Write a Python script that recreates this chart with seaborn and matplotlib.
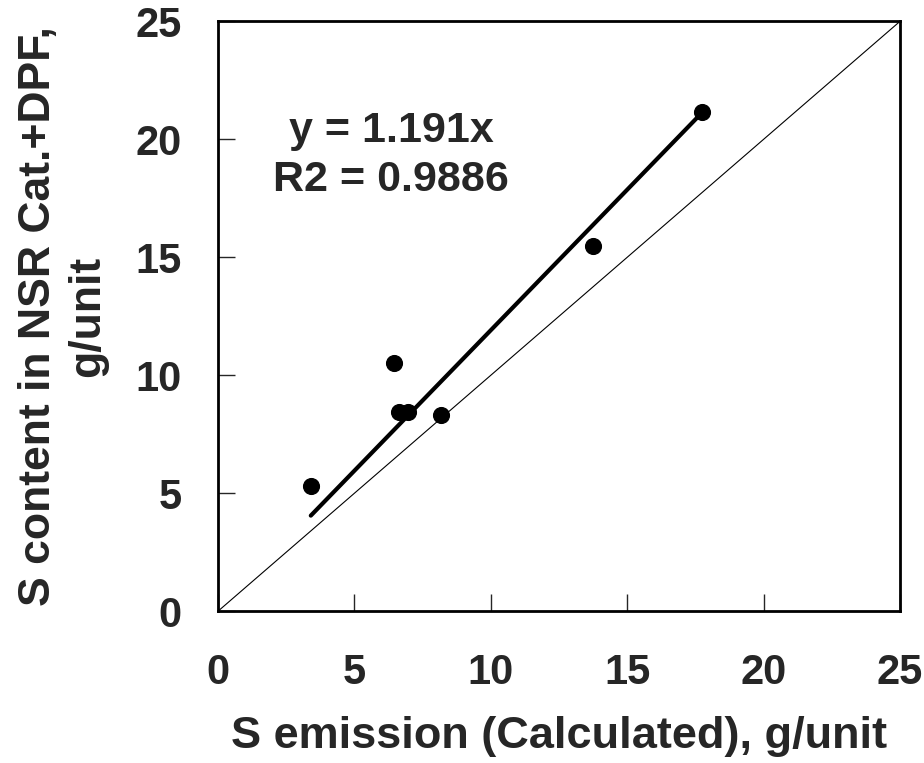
import numpy as np
import pandas as pd
import matplotlib
matplotlib.use('Agg')
import matplotlib.pyplot as plt
import seaborn as sns

# data
s_calc = [3.4, 6.45, 6.63, 6.96, 8.16, 13.73, 17.74]
s_content = [5.3, 10.5, 8.43, 8.43, 8.3, 15.47, 21.14]
slope = 1.191
r2 = 0.9886
ticks = [0, 5, 10, 15, 20, 25]

sns.set_theme(style='white')
plt.rcParams['font.family'] = ['Liberation Sans', 'DejaVu Sans']
plt.rcParams['font.weight'] = 'bold'

df = pd.DataFrame({'x': s_calc, 'y': s_content})

fig = plt.figure(figsize=(9.24, 7.63), dpi=100)
ax = fig.add_axes([0.236, 0.199, 0.738, 0.773])

# 1:1 reference line
ax.plot([0, 25], [0, 25], color='black', linewidth=0.8, zorder=1)

# fitted line through origin
fit_x = np.array([min(s_calc), max(s_calc)])
sns.lineplot(x=fit_x, y=slope * fit_x, color='black', linewidth=3, ax=ax, zorder=2)

sns.scatterplot(data=df, x='x', y='y', color='black', s=130, edgecolor='black', ax=ax, zorder=3)

ax.text(6.34, 19.3, f'y = {slope}x\nR2 = {r2}', ha='center', va='center',
        fontsize=31, fontweight='bold', linespacing=1.3)

ax.set_xlim(0, 25)
ax.set_ylim(0, 25)
ax.set_xticks(ticks)
ax.set_yticks(ticks)
ax.tick_params(axis='both', direction='in', length=12, width=1, labelsize=30,
               top=False, right=False, bottom=True, left=True)
ax.tick_params(axis='x', pad=30)
ax.tick_params(axis='y', pad=26)
for lab in ax.get_xticklabels() + ax.get_yticklabels():
    lab.set_fontweight('bold')

for sp in ax.spines.values():
    sp.set_visible(True)
    sp.set_color('black')
    sp.set_linewidth(2)

ax.set_xlabel('S emission (Calculated), g/unit', fontsize=32.5, fontweight='bold', labelpad=17)
ax.set_ylabel('S content in NSR Cat.+DPF,\ng/unit', fontsize=32, fontweight='bold', labelpad=20,
              linespacing=1.25)

fig.savefig('out.png', dpi=100)
